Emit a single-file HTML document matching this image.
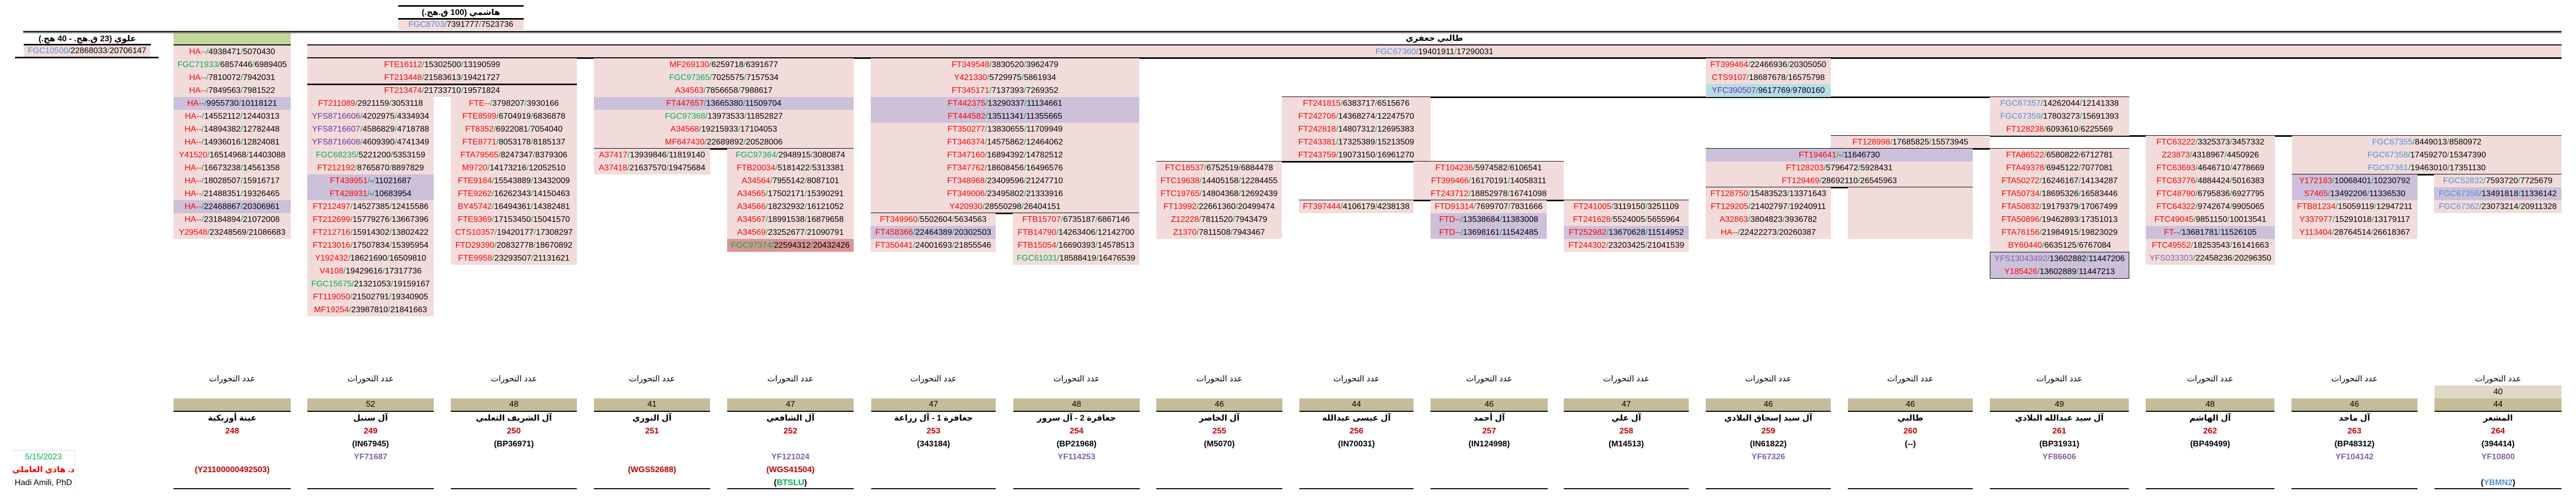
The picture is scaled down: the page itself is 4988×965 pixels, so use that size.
<!DOCTYPE html>
<html><head><meta charset="utf-8">
<style>
html,body{margin:0;padding:0;background:#fff;}
body{width:4988px;height:965px;position:relative;overflow:hidden;font-family:"Liberation Sans","DejaVu Sans",sans-serif;}
.col{position:absolute;}
.col>div{height:25px;line-height:25px;text-align:center;font-size:16px;white-space:nowrap;overflow:hidden;color:#000;}
.p{background:#f2dcdb}.v{background:#ccc0da}.b{background:#b7dee8}.d{background:#da9694}.w{background:transparent}
.r{color:#ff0000}.g{color:#00b050}.u{color:#558ed5}.m{color:#7030a0}.l{color:#8064a2}
i{font-style:normal;color:#00b050}
.h{position:absolute;height:3px;background:#000;}
.t{position:absolute;text-align:center;font-size:16px;font-weight:bold;line-height:25px;white-space:nowrap;}
.bc{position:absolute;top:722px;}
.bc>div{height:25px;line-height:25px;text-align:center;font-size:16px;font-weight:bold;white-space:nowrap;}
.bc>div.lab{font-weight:normal;}
.bc>div.ol{background:#c4bd97;font-weight:normal;border-bottom:2px solid #000;height:24px;line-height:24px;}
.bc>div.ol2{background:#ddd9c4;font-weight:normal;}
.bc>div.n{color:#c00000}
.bc>div.y{color:#8064a2}
.bc>div.wg{color:#c00000}
.bl{position:absolute;height:2px;background:#000;top:946px;}
</style></head><body>

<!-- top double line -->
<div class="h" style="left:45px;top:60px;width:4915px;height:2px"></div>
<div class="h" style="left:45px;top:63px;width:4915px;height:1px"></div>

<!-- Hashemi -->
<div class="h" style="left:771px;top:10px;width:243px"></div>
<div class="t" style="left:771px;top:12px;width:243px">هاشمي (100 ق.هج.)</div>
<div class="h" style="left:771px;top:35px;width:243px"></div>
<div class="col" style="left:771px;top:38px;width:243px"><div class="p" style="height:20px;line-height:20px"><span class="u">FGC8703</span><i>/</i>7391777<i>/</i>7523736</div></div>

<!-- Alawi -->
<div class="t" style="left:46px;top:63px;width:246px">علوي (23 ق.هج. - 40 هج.)</div>
<div class="h" style="left:46px;top:85px;width:246px"></div>
<div class="col" style="left:46px;top:88px;width:245px"><div class="p" style="height:22px;line-height:22px"><span class="u">FGC10500</span><i>/</i>22868033<i>/</i>20706147</div></div>
<div class="h" style="left:29px;top:110px;width:278px"></div>

<!-- green header col A -->
<div style="position:absolute;left:336px;top:64px;width:227px;height:23px;background:#c4d79b"></div>
<div class="h" style="left:336px;top:86px;width:227px"></div>

<!-- big band -->
<div class="t" style="left:595px;top:62px;width:4365px">طالبي جعفري</div>
<div class="h" style="left:595px;top:86px;width:4365px"></div>
<div class="col" style="left:595px;top:88px;width:4365px"><div class="p"><span class="u">FGC67360</span><i>/</i>19401911<i>/</i>17290031</div></div>
<div class="h" style="left:595px;top:111px;width:4365px"></div>

<!-- Col A -->
<div class="col" style="left:336px;top:88px;width:227px">
<div class="p"><span class="r">HA--</span><i>/</i>4938471<i>/</i>5070430</div>
<div class="p"><span class="g">FGC71933</span><i>/</i>6857446<i>/</i>6989405</div>
<div class="p"><span class="r">HA--</span><i>/</i>7810072<i>/</i>7942031</div>
<div class="p"><span class="r">HA--</span><i>/</i>7849563<i>/</i>7981522</div>
<div class="v"><span class="r">HA--</span><i>/</i>9955730<i>/</i>10118121</div>
<div class="p"><span class="r">HA--</span><i>/</i>14552112<i>/</i>12440313</div>
<div class="p"><span class="r">HA--</span><i>/</i>14894382<i>/</i>12782448</div>
<div class="p"><span class="r">HA--</span><i>/</i>14936016<i>/</i>12824081</div>
<div class="p"><span class="r">Y41520</span><i>/</i>16514968<i>/</i>14403088</div>
<div class="p"><span class="r">HA--</span><i>/</i>16673238<i>/</i>14561358</div>
<div class="p"><span class="r">HA--</span><i>/</i>18028507<i>/</i>15916717</div>
<div class="p"><span class="r">HA--</span><i>/</i>21488351<i>/</i>19326465</div>
<div class="v"><span class="r">HA--</span><i>/</i>22468867<i>/</i>20306961</div>
<div class="p"><span class="r">HA--</span><i>/</i>23184894<i>/</i>21072008</div>
<div class="p"><span class="r">Y29548</span><i>/</i>23248569<i>/</i>21086683</div>
</div>

<!-- Col B -->
<div class="col" style="left:595px;top:113px;width:522px">
<div class="p"><span class="r">FTE16112</span><i>/</i>15302500<i>/</i>13190599</div>
<div class="p"><span class="r">FT213448</span><i>/</i>21583613<i>/</i>19421727</div>
<div class="p"><span class="r">FT213474</span><i>/</i>21733710<i>/</i>19571824</div>
</div>
<div class="h" style="left:595px;top:162px;width:522px"></div>
<div class="col" style="left:595px;top:188px;width:245px">
<div class="p"><span class="r">FT211089</span><i>/</i>2921159<i>/</i>3053118</div>
<div class="p"><span class="m">YFS8716606</span><i>/</i>4202975<i>/</i>4334934</div>
<div class="p"><span class="m">YFS8716607</span><i>/</i>4586829<i>/</i>4718788</div>
<div class="p"><span class="m">YFS8716608</span><i>/</i>4609390<i>/</i>4741349</div>
<div class="p"><span class="g">FGC68235</span><i>/</i>5221200<i>/</i>5353159</div>
<div class="p"><span class="r">FT212192</span><i>/</i>8765870<i>/</i>8897829</div>
<div class="v"><span class="r">FT439951</span><i>/</i>-<i>/</i>11021687</div>
<div class="v"><span class="r">FT428931</span><i>/</i>-<i>/</i>10683954</div>
<div class="p"><span class="r">FT212497</span><i>/</i>14527385<i>/</i>12415586</div>
<div class="p"><span class="r">FT212699</span><i>/</i>15779276<i>/</i>13667396</div>
<div class="p"><span class="r">FT212716</span><i>/</i>15914302<i>/</i>13802422</div>
<div class="p"><span class="r">FT213016</span><i>/</i>17507834<i>/</i>15395954</div>
<div class="p"><span class="r">Y192432</span><i>/</i>18621690<i>/</i>16509810</div>
<div class="p"><span class="r">V4108</span><i>/</i>19429616<i>/</i>17317736</div>
<div class="p"><span class="g">FGC15675</span><i>/</i>21321053<i>/</i>19159167</div>
<div class="p"><span class="r">FT119050</span><i>/</i>21502791<i>/</i>19340905</div>
<div class="p"><span class="r">MF19254</span><i>/</i>23987810<i>/</i>21841663</div>
</div>
<div class="col" style="left:873px;top:188px;width:244px">
<div class="p"><span class="r">FTE--</span><i>/</i>3798207<i>/</i>3930166</div>
<div class="p"><span class="r">FTE8599</span><i>/</i>6704919<i>/</i>6836878</div>
<div class="p"><span class="r">FT8352</span><i>/</i>6922081<i>/</i>7054040</div>
<div class="p"><span class="r">FTE8771</span><i>/</i>8053178<i>/</i>8185137</div>
<div class="p"><span class="r">FTA79565</span><i>/</i>8247347<i>/</i>8379306</div>
<div class="p"><span class="r">M9720</span><i>/</i>14173216<i>/</i>12052510</div>
<div class="p"><span class="r">FTE9184</span><i>/</i>15543889<i>/</i>13432009</div>
<div class="p"><span class="r">FTE9262</span><i>/</i>16262343<i>/</i>14150463</div>
<div class="p"><span class="r">BY45742</span><i>/</i>16494361<i>/</i>14382481</div>
<div class="p"><span class="r">FTE9369</span><i>/</i>17153450<i>/</i>15041570</div>
<div class="p"><span class="r">CTS10357</span><i>/</i>19420177<i>/</i>17308297</div>
<div class="p"><span class="r">FTD29390</span><i>/</i>20832778<i>/</i>18670892</div>
<div class="p"><span class="r">FTE9958</span><i>/</i>23293507<i>/</i>21131621</div>
</div>

<!-- Col C -->
<div class="col" style="left:1150px;top:113px;width:503px">
<div class="p"><span class="r">MF269130</span><i>/</i>6259718<i>/</i>6391677</div>
<div class="p"><span class="g">FGC97365</span><i>/</i>7025575<i>/</i>7157534</div>
<div class="p"><span class="r">A34563</span><i>/</i>7856658<i>/</i>7988617</div>
<div class="v"><span class="r">FT447657</span><i>/</i>13665380<i>/</i>11509704</div>
<div class="p"><span class="g">FGC97368</span><i>/</i>13973533<i>/</i>11852827</div>
<div class="p"><span class="r">A34568</span><i>/</i>19215933<i>/</i>17104053</div>
<div class="p"><span class="r">MF647430</span><i>/</i>22689892<i>/</i>20528006</div>
</div>
<div class="h" style="left:1150px;top:287px;width:503px"></div>
<div class="col" style="left:1150px;top:288px;width:225px">
<div class="p"><span class="r">A37417</span><i>/</i>13939846<i>/</i>11819140</div>
<div class="p"><span class="r">A37418</span><i>/</i>21637570<i>/</i>19475684</div>
</div>
<div class="col" style="left:1408px;top:288px;width:245px">
<div class="p"><span class="g">FGC97364</span><i>/</i>2948915<i>/</i>3080874</div>
<div class="p"><span class="r">FTB20034</span><i>/</i>5181422<i>/</i>5313381</div>
<div class="p"><span class="r">A34564</span><i>/</i>7955142<i>/</i>8087101</div>
<div class="p"><span class="r">A34565</span><i>/</i>17502171<i>/</i>15390291</div>
<div class="p"><span class="r">A34566</span><i>/</i>18232932<i>/</i>16121052</div>
<div class="p"><span class="r">A34567</span><i>/</i>18991538<i>/</i>16879658</div>
<div class="p"><span class="r">A34569</span><i>/</i>23252677<i>/</i>21090791</div>
<div class="d"><span class="g">FGC97374</span><i>/</i>22594312<i>/</i>20432426</div>
</div>

<!-- Col D -->
<div class="col" style="left:1686px;top:113px;width:520px">
<div class="p"><span class="r">FT349548</span><i>/</i>3830520<i>/</i>3962479</div>
<div class="p"><span class="r">Y421330</span><i>/</i>5729975<i>/</i>5861934</div>
<div class="p"><span class="r">FT345171</span><i>/</i>7137393<i>/</i>7269352</div>
<div class="v"><span class="r">FT442375</span><i>/</i>13290337<i>/</i>11134661</div>
<div class="v"><span class="r">FT444582</span><i>/</i>13511341<i>/</i>11355665</div>
<div class="p"><span class="r">FT350277</span><i>/</i>13830655<i>/</i>11709949</div>
<div class="p"><span class="r">FT346374</span><i>/</i>14575862<i>/</i>12464062</div>
<div class="p"><span class="r">FT347160</span><i>/</i>16894392<i>/</i>14782512</div>
<div class="p"><span class="r">FT347762</span><i>/</i>18608456<i>/</i>16496576</div>
<div class="p"><span class="r">FT348968</span><i>/</i>23409596<i>/</i>21247710</div>
<div class="p"><span class="r">FT349006</span><i>/</i>23495802<i>/</i>21333916</div>
<div class="p"><span class="r">Y420930</span><i>/</i>28550298<i>/</i>26404151</div>
</div>
<div class="h" style="left:1686px;top:412px;width:520px"></div>
<div class="col" style="left:1686px;top:413px;width:242px">
<div class="p"><span class="r">FT349960</span><i>/</i>5502604<i>/</i>5634563</div>
<div class="v"><span class="r">FT458366</span><i>/</i>22464389<i>/</i>20302503</div>
<div class="p"><span class="r">FT350441</span><i>/</i>24001693<i>/</i>21855546</div>
</div>
<div class="col" style="left:1961px;top:413px;width:245px">
<div class="p"><span class="r">FTB15707</span><i>/</i>6735187<i>/</i>6867146</div>
<div class="p"><span class="r">FTB14790</span><i>/</i>14263406<i>/</i>12142700</div>
<div class="p"><span class="r">FTB15054</span><i>/</i>16690393<i>/</i>14578513</div>
<div class="p"><span class="g">FGC61031</span><i>/</i>18588419<i>/</i>16476539</div>
</div>

<!-- Col E -->
<div class="h" style="left:2482px;top:187px;width:1641px"></div>
<div class="col" style="left:2482px;top:188px;width:288px">
<div class="p"><span class="r">FT241815</span><i>/</i>6383717<i>/</i>6515676</div>
<div class="p"><span class="r">FT242706</span><i>/</i>14368274<i>/</i>12247570</div>
<div class="p"><span class="r">FT242818</span><i>/</i>14807312<i>/</i>12695383</div>
<div class="p"><span class="r">FT243381</span><i>/</i>17325389<i>/</i>15213509</div>
<div class="p"><span class="r">FT243759</span><i>/</i>19073150<i>/</i>16961270</div>
</div>
<div class="h" style="left:2239px;top:312px;width:789px"></div>
<div class="col" style="left:2239px;top:313px;width:243px">
<div class="p"><span class="r">FTC18537</span><i>/</i>6752519<i>/</i>6884478</div>
<div class="p"><span class="r">FTC19638</span><i>/</i>14405158<i>/</i>12284455</div>
<div class="p"><span class="r">FTC19765</span><i>/</i>14804368<i>/</i>12692439</div>
<div class="p"><span class="r">FT13992</span><i>/</i>22661360<i>/</i>20499474</div>
<div class="p"><span class="r">Z12228</span><i>/</i>7811520<i>/</i>7943479</div>
<div class="p"><span class="r">Z1370</span><i>/</i>7811508<i>/</i>7943467</div>
</div>
<div class="col" style="left:2737px;top:313px;width:291px">
<div class="p"><span class="r">FT104236</span><i>/</i>5974582<i>/</i>6106541</div>
<div class="p"><span class="r">FT399466</span><i>/</i>16170191<i>/</i>14058311</div>
<div class="p"><span class="r">FT243712</span><i>/</i>18852978<i>/</i>16741098</div>
</div>
<div class="h" style="left:2515px;top:387px;width:755px"></div>
<div class="col" style="left:2515px;top:388px;width:222px">
<div class="p"><span class="r">FT397444</span><i>/</i>4106179<i>/</i>4238138</div>
</div>
<div class="col" style="left:2770px;top:388px;width:225px">
<div class="p"><span class="r">FTD91314</span><i>/</i>7699707<i>/</i>7831666</div>
<div class="v"><span class="r">FTD--</span><i>/</i>13538684<i>/</i>11383008</div>
<div class="v"><span class="r">FTD--</span><i>/</i>13698161<i>/</i>11542485</div>
</div>
<div class="col" style="left:3028px;top:388px;width:242px">
<div class="p"><span class="r">FT241005</span><i>/</i>3119150<i>/</i>3251109</div>
<div class="p"><span class="r">FT241628</span><i>/</i>5524005<i>/</i>5655964</div>
<div class="v"><span class="r">FT252982</span><i>/</i>13670628<i>/</i>11514952</div>
<div class="p"><span class="r">FT244302</span><i>/</i>23203425<i>/</i>21041539</div>
</div>

<!-- Col F -->
<div class="col" style="left:3303px;top:113px;width:242px">
<div class="p"><span class="r">FT399464</span><i>/</i>22466936<i>/</i>20305050</div>
<div class="p"><span class="r">CTS9107</span><i>/</i>18687678<i>/</i>16575798</div>
<div class="b"><span class="m">YFC390507</span><i>/</i>9617769<i>/</i>9780160</div>
</div>
<div class="h" style="left:3545px;top:262px;width:1415px"></div>
<div class="col" style="left:3545px;top:263px;width:308px">
<div class="p"><span class="r">FT128998</span><i>/</i>17685825<i>/</i>15573945</div>
</div>
<div class="h" style="left:3303px;top:287px;width:820px"></div>
<div class="col" style="left:3303px;top:288px;width:517px">
<div class="v"><span class="r">FT194641</span><i>/</i>-<i>/</i>11646730</div>
<div class="p"><span class="r">FT128203</span><i>/</i>5796472<i>/</i>5928431</div>
<div class="p"><span class="r">FT129469</span><i>/</i>28692110<i>/</i>26545963</div>
</div>
<div class="h" style="left:3303px;top:362px;width:517px"></div>
<div class="col" style="left:3303px;top:363px;width:242px">
<div class="p"><span class="r">FT128750</span><i>/</i>15483523<i>/</i>13371643</div>
<div class="p"><span class="r">FT129205</span><i>/</i>21402797<i>/</i>19240911</div>
<div class="p"><span class="r">A32863</span><i>/</i>3804823<i>/</i>3936782</div>
<div class="p"><span class="r">HA--</span><i>/</i>22422273<i>/</i>20260387</div>
</div>
<div style="position:absolute;left:3578px;top:363px;width:242px;height:100px;background:#f2dcdb"></div>

<!-- Col G -->
<div class="col" style="left:3853px;top:188px;width:270px">
<div class="p"><span class="u">FGC67357</span><i>/</i>14262044<i>/</i>12141338</div>
<div class="p"><span class="u">FGC67359</span><i>/</i>17803273<i>/</i>15691393</div>
<div class="p"><span class="r">FT128238</span><i>/</i>6093610<i>/</i>6225569</div>
</div>
<div class="col" style="left:3853px;top:288px;width:270px">
<div class="p"><span class="r">FTA86522</span><i>/</i>6580822<i>/</i>6712781</div>
<div class="p"><span class="r">FTA49378</span><i>/</i>6945122<i>/</i>7077081</div>
<div class="p"><span class="r">FTA50272</span><i>/</i>16246167<i>/</i>14134287</div>
<div class="p"><span class="r">FTA50734</span><i>/</i>18695326<i>/</i>16583446</div>
<div class="p"><span class="r">FTA50832</span><i>/</i>19179379<i>/</i>17067499</div>
<div class="p"><span class="r">FTA50896</span><i>/</i>19462893<i>/</i>17351013</div>
<div class="p"><span class="r">FTA76156</span><i>/</i>21984915<i>/</i>19823029</div>
<div class="p"><span class="r">BY60440</span><i>/</i>6635125<i>/</i>6767084</div>
</div>
<div class="col" style="left:3853px;top:488px;width:268px;border:1px solid #000">
<div class="v"><span class="l">YFS13043492</span><i>/</i>13602882<i>/</i>11447206</div>
<div class="v"><span class="r">Y185426</span><i>/</i>13602889<i>/</i>11447213</div>
</div>

<!-- Col H -->
<div class="col" style="left:4155px;top:263px;width:250px">
<div class="p"><span class="r">FTC63222</span><i>/</i>3325373<i>/</i>3457332</div>
<div class="p"><span class="r">Z23873</span><i>/</i>4318967<i>/</i>4450926</div>
<div class="p"><span class="r">FTC63693</span><i>/</i>4646710<i>/</i>4778669</div>
<div class="p"><span class="r">FTC63776</span><i>/</i>4884424<i>/</i>5016383</div>
<div class="p"><span class="r">FTC48790</span><i>/</i>6795836<i>/</i>6927795</div>
<div class="p"><span class="r">FTC64322</span><i>/</i>9742674<i>/</i>9905065</div>
<div class="p"><span class="r">FTC49045</span><i>/</i>9851150<i>/</i>10013541</div>
<div class="v"><span class="r">FT--</span><i>/</i>13681781<i>/</i>11526105</div>
<div class="p"><span class="r">FTC49552</span><i>/</i>18253543<i>/</i>16141663</div>
<div class="p"><span class="l">YFS033303</span><i>/</i>22458236<i>/</i>20296350</div>
</div>

<!-- Col I -->
<div class="col" style="left:4438px;top:263px;width:522px">
<div class="p"><span class="u">FGC67355</span><i>/</i>8449013<i>/</i>8580972</div>
<div class="p"><span class="u">FGC67358</span><i>/</i>17459270<i>/</i>15347390</div>
<div class="p"><span class="u">FGC67361</span><i>/</i>19463010<i>/</i>17351130</div>
</div>
<div class="h" style="left:4438px;top:337px;width:522px"></div>
<div class="col" style="left:4438px;top:338px;width:243px">
<div class="v"><span class="r">Y172183</span><i>/</i>10068401<i>/</i>10230792</div>
<div class="v"><span class="r">S7465</span><i>/</i>13492206<i>/</i>11336530</div>
<div class="p"><span class="r">FTB81234</span><i>/</i>15059119<i>/</i>12947211</div>
<div class="p"><span class="r">Y337977</span><i>/</i>15291018<i>/</i>13179117</div>
<div class="p"><span class="r">Y113404</span><i>/</i>28764514<i>/</i>26618367</div>
</div>
<div class="col" style="left:4713px;top:338px;width:247px">
<div class="p"><span class="u">FGC52832</span><i>/</i>7593720<i>/</i>7725679</div>
<div class="v"><span class="u">FGC67356</span><i>/</i>13491818<i>/</i>11336142</div>
<div class="p"><span class="u">FGC67362</span><i>/</i>23073214<i>/</i>20911328</div>
</div>

<!-- Bottom section -->
<div class="bc" style="left:336px;width:227px"><div class="lab">عدد التحورات</div><div></div><div class="ol"></div><div>عينة أوزبكية</div><div class="n">248</div><div></div><div></div><div class="wg">(Y21100000492503)</div></div>
<div class="bc" style="left:595px;width:245px"><div class="lab">عدد التحورات</div><div></div><div class="ol">52</div><div>آل سنبل</div><div class="n">249</div><div>(IN67945)</div><div class="y">YF71687</div></div>
<div class="bc" style="left:873px;width:244px"><div class="lab">عدد التحورات</div><div></div><div class="ol">48</div><div>آل الشريف الثعلبي</div><div class="n">250</div><div>(BP36971)</div></div>
<div class="bc" style="left:1150px;width:225px"><div class="lab">عدد التحورات</div><div></div><div class="ol">41</div><div>آل النوري</div><div class="n">251</div><div></div><div></div><div class="wg">(WGS52688)</div></div>
<div class="bc" style="left:1408px;width:245px"><div class="lab">عدد التحورات</div><div></div><div class="ol">47</div><div>آل الشافعي</div><div class="n">252</div><div></div><div class="y">YF121024</div><div class="wg">(WGS41504)</div><div>(<span style="color:#00b050">BTSLU</span>)</div></div>
<div class="bc" style="left:1687px;width:241px"><div class="lab">عدد التحورات</div><div></div><div class="ol">47</div><div>جعافرة 1 - آل زراعة</div><div class="n">253</div><div>(343184)</div></div>
<div class="bc" style="left:1962px;width:245px"><div class="lab">عدد التحورات</div><div></div><div class="ol">48</div><div>جعافرة 2 - آل سرور</div><div class="n">254</div><div>(BP21968)</div><div class="y">YF114253</div></div>
<div class="bc" style="left:2239px;width:244px"><div class="lab">عدد التحورات</div><div></div><div class="ol">46</div><div>آل الخاصر</div><div class="n">255</div><div>(M5070)</div></div>
<div class="bc" style="left:2516px;width:221px"><div class="lab">عدد التحورات</div><div></div><div class="ol">44</div><div>آل عيسى عبدالله</div><div class="n">256</div><div>(IN70031)</div></div>
<div class="bc" style="left:2770px;width:227px"><div class="lab">عدد التحورات</div><div></div><div class="ol">46</div><div>آل أحمد</div><div class="n">257</div><div>(IN124998)</div></div>
<div class="bc" style="left:3028px;width:242px"><div class="lab">عدد التحورات</div><div></div><div class="ol">47</div><div>آل علي</div><div class="n">258</div><div>(M14513)</div></div>
<div class="bc" style="left:3303px;width:242px"><div class="lab">عدد التحورات</div><div></div><div class="ol">46</div><div>آل سيد إسحاق البلادي</div><div class="n">259</div><div>(IN61822)</div><div class="y">YF67326</div></div>
<div class="bc" style="left:3578px;width:242px"><div class="lab">عدد التحورات</div><div></div><div class="ol">46</div><div>طالبي</div><div class="n">260</div><div>(--)</div></div>
<div class="bc" style="left:3853px;width:269px"><div class="lab">عدد التحورات</div><div></div><div class="ol">49</div><div>آل سيد عبدالله البلادي</div><div class="n">261</div><div>(BP31931)</div><div class="y">YF86606</div></div>
<div class="bc" style="left:4155px;width:249px"><div class="lab">عدد التحورات</div><div></div><div class="ol">48</div><div>آل الهاشم</div><div class="n">262</div><div>(BP49499)</div></div>
<div class="bc" style="left:4437px;width:244px"><div class="lab">عدد التحورات</div><div></div><div class="ol">46</div><div>آل ماجد</div><div class="n">263</div><div>(BP48312)</div><div class="y">YF104142</div></div>
<div class="bc" style="left:4714px;width:246px"><div class="lab">عدد التحورات</div><div class="ol2">40</div><div class="ol">44</div><div>المشعر</div><div class="n">264</div><div>(394414)</div><div class="y">YF10800</div><div></div><div>(<span style="color:#558ed5">YBMN2</span>)</div></div>

<div class="bl" style="left:336px;width:227px"></div>
<div class="bl" style="left:595px;width:245px"></div>
<div class="bl" style="left:873px;width:244px"></div>
<div class="bl" style="left:1150px;width:225px"></div>
<div class="bl" style="left:1408px;width:245px"></div>
<div class="bl" style="left:1687px;width:241px"></div>
<div class="bl" style="left:1962px;width:245px"></div>
<div class="bl" style="left:2239px;width:244px"></div>
<div class="bl" style="left:2516px;width:221px"></div>
<div class="bl" style="left:2770px;width:227px"></div>
<div class="bl" style="left:3028px;width:242px"></div>
<div class="bl" style="left:3303px;width:242px"></div>
<div class="bl" style="left:3578px;width:242px"></div>
<div class="bl" style="left:3853px;width:269px"></div>
<div class="bl" style="left:4155px;width:249px"></div>
<div class="bl" style="left:4437px;width:244px"></div>
<div class="bl" style="left:4714px;width:246px"></div>

<!-- signature -->
<div style="position:absolute;left:24px;top:872px;width:121px;height:76px;border-top:1px solid #d9d9d9;border-right:1px solid #e6e6e6"></div>
<div class="t" style="left:14px;top:873px;width:140px;font-weight:normal;color:#00b050">5/15/2023</div>
<div class="t" style="left:14px;top:898px;width:140px;color:#ff0000">د. هادي العاملي</div>
<div class="t" style="left:14px;top:923px;width:140px;font-weight:normal">Hadi Amili, PhD</div>

</body></html>
